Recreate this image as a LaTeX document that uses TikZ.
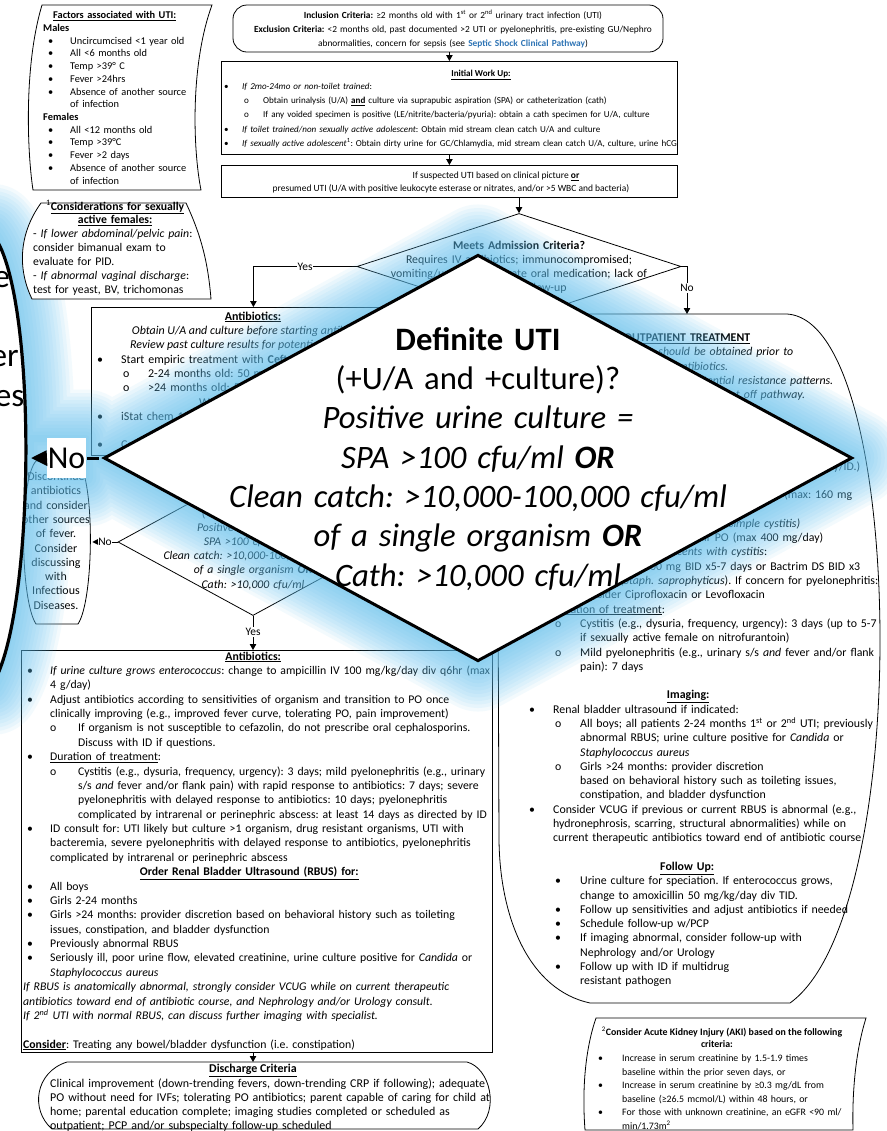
\documentclass[tikz,border=0pt]{standalone}
\usepackage{fontspec}
\setmainfont{Carlito}
\frenchspacing
\usetikzlibrary{shapes.geometric,arrows.meta}

\definecolor{linkblue}{RGB}{46,116,181}
\definecolor{glowblue}{RGB}{95,192,240}

% font sizes of the individual blocks
\newcommand\fFac{\fontsize{10.4}{12.77}\selectfont}
\newcommand\fCon{\fontsize{11.8}{14}\selectfont}
\newcommand\fTop{\fontsize{9.4}{14}\selectfont}
\newcommand\fWork{\fontsize{9.1}{14.25}\selectfont}
\newcommand\fSusp{\fontsize{9.5}{13}\selectfont}
\newcommand\fMeet{\fontsize{11.9}{14.3}\selectfont}
\newcommand\fAbx{\fontsize{12}{14.3}\selectfont}
\newcommand\fAbxB{\fontsize{11.8}{14.43}\selectfont}
\newcommand\fOut{\fontsize{11.9}{14.35}\selectfont}
\newcommand\fDia{\fontsize{11.8}{14.2}\selectfont}
\newcommand\fDisc{\fontsize{12}{14.33}\selectfont}
\newcommand\fAki{\fontsize{9.9}{13.6}\selectfont}
\newcommand\fLbl{\fontsize{11.5}{13}\selectfont}
\newcommand\fDis{\fontsize{12}{14.3}\selectfont}

% list helpers: bullet at an offset, sub-bullet, indent, centred and right-aligned pieces
\newcommand\bul[2]{\hspace*{#1}\makebox[#2][l]{\textbullet}}
\newcommand\subbul[2]{\hspace*{#1}\makebox[#2][l]{o}}
\newcommand\indt[1]{\hspace*{#1}}
\newcommand\ctr[2]{\hspace*{#1}\makebox[0pt]{#2}}
\newcommand\rgt[2]{\hspace*{#1}\makebox[0pt][r]{#2}}

\tikzset{
  flowbox/.style={draw=black, line width=0.8bp, fill=white, inner sep=0pt},
  flowline/.style={draw=black, line width=0.8bp},
  flowarrow/.style={flowline, -{Triangle[length=6bp,width=6.5bp]}},
  textblock/.style={inner sep=0pt, anchor=base west, align=left},
  lbl/.style={fill=white, inner sep=1bp, font=\fLbl},
}

% decision "Definite UTI" (drawn in small coordinates; reused enlarged)
\newcommand\utidiamond[2]{%
  \node[diamond, draw=black, line width=#2, fill=white, minimum width=270bp,
        minimum height=147bp, inner sep=0pt] (#1dia) at (253,542) {};
  \node[inner sep=0pt, anchor=base, align=center, text width=300bp, font=\fDia]
    (#1diatext) at (253,503.2)
    {\textbf{Definite UTI}\\(+U/A and +culture)?\\\textit{Positive urine culture =}\\
     \textit{SPA >100 cfu/ml \textbf{OR}}\\\textit{Clean catch: >10,000-100,000 cfu/ml}\\
     \textit{of a single organism \textbf{OR}}\\\textit{Cath: >10,000 cfu/ml}};
}
% "Discontinue antibiotics" terminal box
\newcommand\discbox[2]{%
  \draw[draw=black, line width=#2, fill=white]
    (36,461) -- (78,461) .. controls (95,480) and (94,600) .. (78,624)
    -- (36,624) .. controls (20,600) and (19,480) .. (36,461) -- cycle;
  \node[inner sep=0pt, anchor=base, align=center, text width=90bp, font=\fDisc]
    (#1disctext) at (56,480.7)
    {Discontinue\\antibiotics\\and consider\\other sources\\of fever.\\Consider\\discussing\\with\\Infectious\\Diseases.};
}
% "No" branch from the decision to the terminal box
\newcommand\noarrow[2]{%
  \node[fill=white, inner sep=0pt, minimum width=14bp, minimum height=14.4bp, font=\fLbl]
    (#1no) at (105,542) {No};
  \draw[draw=black, line width=#2] (#1dia.west) -- (#1no.east);
  \fill[black] (#1no.west) ++(0,-2.9) -- (92.3,542) -- ++(5.8,2.9) -- cycle;
}

\begin{document}
\begin{tikzpicture}[x=1bp,y=-1bp]
\useasboundingbox (0,0) rectangle (887,1131);
\fill[white] (0,0) rectangle (887,1131);

% ---------- factors note
\draw[flowline, fill=white] (42,5) -- (212,5) .. controls (190,65) and (193,150) .. (201,190)
  -- (33,190) .. controls (27,150) and (24,65) .. (42,5) -- cycle;
\node[textblock, font=\fFac, text width=175bp] (factors) at (43,18.7) {%
\ctr{71.5bp}{\textbf{\underline{Factors associated with UTI:}}}\\
\textbf{Males}\\
\bul{5bp}{22bp}Uncircumcised <1 year old\\
\bul{5bp}{22bp}All <6 months old\\
\bul{5bp}{22bp}Temp >39° C\\
\bul{5bp}{22bp}Fever >24hrs\\
\bul{5bp}{22bp}Absence of another source\\
\indt{27bp}of infection\\
\textbf{Females}\\
\bul{5bp}{22bp}All <12 months old\\
\bul{5bp}{22bp}Temp >39°C\\
\bul{5bp}{22bp}Fever >2 days\\
\bul{5bp}{22bp}Absence of another source\\
\indt{27bp}of infection};

% ---------- inclusion / exclusion
\node[flowbox, rounded corners=14bp, minimum width=430bp, minimum height=47bp] (incl) at (448,28.5) {};
\node[inner sep=0pt, anchor=base, align=center, text width=440bp, font=\fTop] (incltext) at (453,18.3)
 {\textbf{Inclusion Criteria:} ≥2 months old with 1\textsuperscript{st} or 2\textsuperscript{nd} urinary tract infection (UTI)\\
  \textbf{Exclusion Criteria:} <2 months old, past documented >2 UTI or pyelonephritis, pre-existing GU/Nephro\\
  abnormalities, concern for sepsis (see \textcolor{linkblue}{\textbf{Septic Shock Clinical Pathway}})};

% ---------- initial work up
\node[flowbox, minimum width=456bp, minimum height=93bp, anchor=north west] (work) at (221,61) {};
\node[inner sep=0pt, anchor=base, font=\fWork] (worktitle) at (481,76) {\textbf{\underline{Initial Work Up:}}};
\node[textblock, font=\fWork, text width=470bp] (worklist) at (224,89.5) {%
\bul{0bp}{18bp}\textit{If 2mo-24mo or non-toilet trained}:\\
\subbul{20bp}{19bp}Obtain urinalysis (U/A) \underline{\textbf{and}} culture via suprapubic aspiration (SPA) or catheterization (cath)\\
\subbul{20bp}{19bp}If any voided specimen is positive (LE/nitrite/bacteria/pyuria): obtain a cath specimen for U/A, culture\\
\bul{0bp}{18bp}\textit{If toilet trained/non sexually active adolescent}: Obtain mid stream clean catch U/A and culture\\
\bul{0bp}{18bp}\textit{If sexually active adolescent}\textsuperscript{1}: Obtain dirty urine for GC/Chlamydia, mid stream clean catch U/A, culture, urine hCG};
\draw[flowarrow] (incl.south -| work.north) -- (work.north);

% ---------- suspected UTI
\node[flowbox, minimum width=456bp, minimum height=32bp, anchor=north west] (susp) at (221,165) {};
\node[inner sep=0pt, anchor=base, font=\fSusp] (susp1) at (496,178.5) {If suspected UTI based on clinical picture \underline{\textbf{or}}};
\node[inner sep=0pt, anchor=base, font=\fSusp] (susp2) at (451,191.5) {presumed UTI (U/A with positive leukocyte esterase or nitrates, and/or >5 WBC and bacteria)};
\draw[flowarrow] (work.south) -- (susp.north);

% ---------- admission decision
\node[diamond, flowline, fill=white, minimum width=324bp, minimum height=106bp, inner sep=0pt] (meets) at (519,266.5) {};
\node[inner sep=0pt, anchor=base, align=center, text width=330bp, font=\fMeet] (meetstext) at (519,249)
 {\textbf{Meets Admission Criteria?}\\Requires IV antibiotics; immunocompromised;\\vomiting/unable to tolerate oral medication; lack of\\adequate follow-up};
\draw[flowarrow] (susp.south -| meets.north) -- (meets.north);

% ---------- inpatient antibiotics
\node[flowbox, minimum width=324bp, minimum height=148bp, anchor=north west] (abx1) at (91,307) {};
\node[inner sep=0pt, anchor=base, font=\fAbx] (abx1title) at (253,320) {\textbf{\underline{Antibiotics:}}};
\node[inner sep=0pt, anchor=base, font=\fAbx] (abx1i1) at (253,334.5) {\textit{Obtain U/A and culture before starting antibiotics.}};
\node[inner sep=0pt, anchor=base, font=\fAbx] (abx1i2) at (253,348.5) {\textit{Review past culture results for potential resistance.}};
\node[textblock, font=\fAbx, text width=330bp] (abx1list) at (97,363.3) {%
\bul{0bp}{24bp}Start empiric treatment with \textbf{Ceftriaxone}:\\
\subbul{26bp}{25bp}2-24 months old: 50 mg/kg IV/IM q24h\\
\subbul{26bp}{25bp}>24 months old: 50 mg/kg IV/IM q24h\\
\indt{102bp}Weight-based, max 2 g\\
\bul{0bp}{24bp}iStat chem 10 if concern for AKI\textsuperscript{2}\\
\mbox{}\\
\bul{0bp}{24bp}Consider blood culture if ill-appearing};

\draw[flowarrow] (meets.west) -| (abx1.north);
\node[lbl] (yes1) at (305,266.5) {Yes};
\coordinate (outtop) at (687,314);
\draw[flowarrow] (meets.east) -| (outtop);
\node[lbl] (no1) at (687,288) {No};

% ---------- definite UTI decision, small
\discbox{}{0.8bp}
\utidiamond{}{0.8bp}
\noarrow{}{0.8bp}

% ---------- inpatient antibiotics (continued)
\node[flowbox, minimum width=471bp, minimum height=402bp, anchor=north west] (abx2) at (21,650) {};
\node[textblock, font=\fAbxB, text width=520bp] (abx2list) at (23,660) {%
\ctr{230bp}{\textbf{\underline{Antibiotics:}}}\\
\bul{4bp}{23bp}\textit{If urine culture grows enterococcus}: change to ampicillin IV 100 mg/kg/day div q6hr (max\\
\indt{27bp}4 g/day)\\
\bul{4bp}{23bp}Adjust antibiotics according to sensitivities of organism and transition to PO once\\
\indt{27bp}clinically improving (e.g., improved fever curve, tolerating PO, pain improvement)\\
\subbul{27bp}{28bp}If organism is not susceptible to cefazolin, do not prescribe oral cephalosporins.\\
\indt{55bp}Discuss with ID if questions.\\
\bul{4bp}{23bp}\underline{Duration of treatment}:\\
\subbul{27bp}{28bp}Cystitis (e.g., dysuria, frequency, urgency): 3 days; mild pyelonephritis (e.g., urinary\\
\indt{55bp}s/s \textit{and} fever and/or flank pain) with rapid response to antibiotics: 7 days; severe\\
\indt{55bp}pyelonephritis with delayed response to antibiotics: 10 days; pyelonephritis\\
\indt{55bp}complicated by intrarenal or perinephric abscess: at least 14 days as directed by ID\\
\bul{4bp}{23bp}ID consult for: UTI likely but culture >1 organism, drug resistant organisms, UTI with\\
\indt{27bp}bacteremia, severe pyelonephritis with delayed response to antibiotics, pyelonephritis\\
\indt{27bp}complicated by intrarenal or perinephric abscess\\
\ctr{226bp}{\textbf{\underline{Order Renal Bladder Ultrasound (RBUS) for:}}}\\
\bul{4bp}{23bp}All boys\\
\bul{4bp}{23bp}Girls 2-24 months\\
\bul{4bp}{23bp}Girls >24 months: provider discretion based on behavioral history such as toileting\\
\indt{27bp}issues, constipation, and bladder dysfunction\\
\bul{4bp}{23bp}Previously abnormal RBUS\\
\bul{4bp}{23bp}Seriously ill, poor urine flow, elevated creatinine, urine culture positive for \textit{Candida} or\\
\indt{27bp}\textit{Staphylococcus aureus}\\
\textit{If RBUS is anatomically abnormal, strongly consider VCUG while on current therapeutic}\\
\textit{antibiotics toward end of antibiotic course, and Nephrology and/or Urology consult.}\\
\textit{If 2\textsuperscript{nd} UTI with normal RBUS, can discuss further imaging with specialist.}\\
\mbox{}\\
\underline{\textbf{Consider}}: Treating any bowel/bladder dysfunction (i.e. constipation)};

\draw[flowarrow] (dia.south) -- (dia.south |- abx2.north);
\node[lbl] (yes2) at (253,632) {Yes};

% ---------- discharge criteria
\draw[flowline, fill=white] (67,1062) -- (467,1062) .. controls (490,1068) and (500,1110) .. (478,1129)
  -- (52,1129) .. controls (30,1110) and (35,1072) .. (67,1062) -- cycle;
\coordinate (dischtop) at (253,1062);
\draw[flowarrow] (abx2.south -| dischtop) -- (dischtop);
\node[inner sep=0pt, anchor=base, font=\fDis] (distitle) at (253,1072.3) {\textbf{\underline{Discharge Criteria}}};
\node[textblock, font=\fDis, text width=460bp] (distext) at (50,1087) {%
Clinical improvement (down-trending fevers, down-trending CRP if following); adequate\\
PO without need for IVFs; tolerating PO antibiotics; parent capable of caring for child at\\
home; parental education complete; imaging studies completed or scheduled as\\
outpatient; PCP and/or subspecialty follow-up scheduled};

% ---------- outpatient treatment
\draw[flowline, fill=white] (497,314) -- (787,314) .. controls (850,318) and (880,480) .. (880,640)
  .. controls (880,800) and (850,960) .. (790,1003) -- (590,1003)
  .. controls (530,990) and (500,920) .. (499,840) -- cycle;
\node[textblock, font=\fOut, text width=380bp] (outtext) at (520,341.5) {%
\ctr{167bp}{\textbf{\underline{OUTPATIENT TREATMENT}}}\\
\rgt{273bp}{\textit{U/A and culture should be obtained prior to}}\\
\rgt{208bp}{\textit{starting antibiotics.}}\\
\rgt{313bp}{\textit{Review past culture results for potential resistance patterns.}}\\
\rgt{285bp}{\textit{Discuss with ID if choosing to treat off pathway.}}\\
\mbox{}\\ \mbox{}\\ \mbox{}\\ \mbox{}\\
\rgt{340bp}{(if allergic, discuss with pharmacy/ID.)}\\
\mbox{}\\
\rgt{332bp}{TMP-SMX 4 mg/kg/dose TMP PO BID (max: 160 mg}\\
\mbox{}\\
\rgt{280bp}{\textit{(for uncomplicated/simple cystitis)}}\\
\rgt{303bp}{14 mg/kg/day Cefdinir PO (max 400 mg/day)}\\
\rgt{247bp}{\textit{Sexually active adolescents with cystitis}:}\\
\rgt{340bp}{Nitrofurantoin 100 mg BID x5-7 days or Bactrim DS BID x3}\\
\rgt{358bp}{days (\textit{Staph. saprophyticus}). If concern for pyelonephritis:}\\
\indt{60bp}consider Ciprofloxacin or Levofloxacin\\
\bul{9bp}{24bp}\underline{Duration of treatment}:\\
\subbul{35bp}{25bp}Cystitis (e.g., dysuria, frequency, urgency): 3 days (up to 5-7\\
\indt{60bp}if sexually active female on nitrofurantoin)\\
\subbul{35bp}{25bp}Mild pyelonephritis (e.g., urinary s/s \textit{and} fever and/or flank\\
\indt{60bp}pain): 7 days\\
\mbox{}\\
\ctr{168bp}{\textbf{\underline{Imaging:}}}\\
\bul{9bp}{24bp}Renal bladder ultrasound if indicated:\\
\subbul{35bp}{25bp}All boys; all patients 2-24 months 1\textsuperscript{st} or 2\textsuperscript{nd} UTI; previously\\
\indt{60bp}abnormal RBUS; urine culture positive for \textit{Candida} or\\
\indt{60bp}\textit{Staphylococcus aureus}\\
\subbul{35bp}{25bp}Girls >24 months: provider discretion\\
\indt{60bp}based on behavioral history such as toileting issues,\\
\indt{60bp}constipation, and bladder dysfunction\\
\bul{9bp}{24bp}Consider VCUG if previous or current RBUS is abnormal (e.g.,\\
\indt{33bp}hydronephrosis, scarring, structural abnormalities) while on\\
\indt{33bp}current therapeutic antibiotics toward end of antibiotic course\\
\mbox{}\\
\ctr{167bp}{\textbf{\underline{Follow Up:}}}\\
\bul{35bp}{25bp}Urine culture for speciation. If enterococcus grows,\\
\indt{60bp}change to amoxicillin 50 mg/kg/day div TID.\\
\bul{35bp}{25bp}Follow up sensitivities and adjust antibiotics if needed\\
\bul{35bp}{25bp}Schedule follow-up w/PCP\\
\bul{35bp}{25bp}If imaging abnormal, consider follow-up with\\
\indt{60bp}Nephrology and/or Urology\\
\bul{35bp}{25bp}Follow up with ID if multidrug\\
\indt{60bp}resistant pathogen};

% ---------- acute kidney injury note
\draw[flowline, fill=white] (596,1018) -- (866,1018) .. controls (856,1050) and (852,1090) .. (853,1130)
  -- (585,1130) .. controls (582,1090) and (585,1050) .. (596,1018) -- cycle;
\node[inner sep=0pt, anchor=base, font=\fAki] (akititle1) at (722,1035.5) {\textsuperscript{2}\textbf{Consider Acute Kidney Injury (AKI) based on the following}};
\node[inner sep=0pt, anchor=base, font=\fAki] (akititle2) at (717,1047.8) {\textbf{criteria:}};
\node[textblock, font=\fAki, text width=270bp] (akilist) at (598,1061.5) {%
\bul{0bp}{24bp}Increase in serum creatinine by 1.5-1.9 times\\
\indt{24bp}baseline within the prior seven days, or\\
\bul{0bp}{24bp}Increase in serum creatinine by ≥0.3 mg/dL from\\
\indt{24bp}baseline (≥26.5 mcmol/L) within 48 hours, or\\
\bul{0bp}{24bp}For those with unknown creatinine, an eGFR <90 ml/\\
\indt{24bp}min/1.73m\textsuperscript{2}};

% ---------- blue halo around the enlarged view
\begin{scope}[shift={(478,458)}, scale=2.78, shift={(-253,-542)}]
  \foreach \w in {7,14,...,98}{
    \draw[draw=glowblue, line width=\w bp, draw opacity=0.075, line join=round]
      (253,468.5) -- (388,542) -- (253,615.5) -- (118,542) -- cycle
      (36,461) -- (78,461) .. controls (95,480) and (94,600) .. (78,624)
      -- (36,624) .. controls (20,600) and (19,480) .. (36,461) -- cycle
      (92,535) rectangle (112,549);
  }
\end{scope}

% ---------- sexually active females note
\draw[flowline, fill=white] (41,203) -- (186,203) .. controls (201,235) and (208,262) .. (211,299)
  -- (32,299) .. controls (18,270) and (18,235) .. (41,203) -- cycle;
\node[textblock, font=\fCon, text width=185bp] (consider) at (33,210) {%
\ctr{82bp}{\textsuperscript{1}\textbf{\underline{Considerations for sexually}}}\\
\ctr{82bp}{\textbf{\underline{active females:}}}\\
- \textit{If lower abdominal/pelvic pain}:\\
consider bimanual exam to\\
evaluate for PID.\\
- \textit{If abnormal vaginal discharge}:\\
test for yeast, BV, trichomonas};

% ---------- enlarged view of the definite-UTI decision
\begin{scope}[shift={(478,458)}, scale=2.78, shift={(-253,-542)}, transform shape]
  \discbox{L}{3.2bp}
  \utidiamond{L}{3bp}
  \noarrow{L}{3bp}
\end{scope}
\end{tikzpicture}
\end{document}
